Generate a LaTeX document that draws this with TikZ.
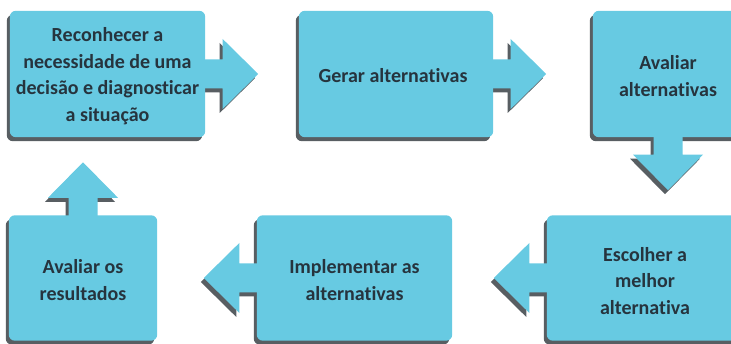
\documentclass[tikz,border=0pt]{standalone}
\usepackage{fontspec}
\setmainfont{Carlito}[Ligatures={NoCommon,NoRequired,NoContextual}]
\usetikzlibrary{calc}
\pgfdeclarelayer{background}
\pgfsetlayers{background,main}

\definecolor{boxfill}{RGB}{103,202,226}
\definecolor{boxshade}{RGB}{88,94,98}
\definecolor{boxtext}{RGB}{38,52,62}

% block arrow pointing along +x, drawn from the box edge
\newcommand\blockarrowpath{(-6,-14.5) -- (17.5,-14.5) -- (17.5,-35) -- (53,0) -- (17.5,35) -- (17.5,14.5) -- (-6,14.5) -- cycle}

\tikzset{
  stepbox/.style={rectangle, inner sep=0pt},
  steptext/.style={inner sep=0pt, align=center, text=boxtext,
    font=\fontsize{20}{26.5}\selectfont\bfseries},
}

\begin{document}
\begin{tikzpicture}[x=1pt,y=-1pt]
\useasboundingbox (0,0) rectangle (731,344);

% process steps
\node[stepbox, minimum width=195pt, minimum height=126pt] (b1) at (107.5,74) {};
\node[stepbox, minimum width=194pt, minimum height=126pt] (b2) at (396,74) {};
\node[stepbox, minimum width=150pt, minimum height=126pt] (b3) at (668,74) {};
\node[stepbox, minimum width=196pt, minimum height=125pt] (b6) at (645,278) {};
\node[stepbox, minimum width=195pt, minimum height=125pt] (b5) at (354.5,278) {};
\node[stepbox, minimum width=148pt, minimum height=125pt] (b4) at (83,278) {};

% labels
\node[steptext] (t1) at ($(b1.center)+(0,2)$)
  {Reconhecer a\\necessidade de uma\\decisão e diagnosticar\\a situação};
\node[steptext] (t2) at ($(b2.center)+(-3,2)$) {Gerar alternativas};
\node[steptext] (t3) at ($(b3.center)+(0,2)$) {Avaliar\\alternativas};
\node[steptext] (t6) at ($(b6.center)+(0,3)$) {Escolher a\\melhor\\alternativa};
\node[steptext] (t5) at ($(b5.center)+(0,2)$) {Implementar as\\alternativas};
\node[steptext] (t4) at ($(b4.center)+(0,2)$) {Avaliar os\\resultados};

\begin{pgfonlayer}{background}
  % shadows: arrows and boxes, offset down-left
  \foreach \a/\r in {b1.east/0, b2.east/0, b3.south/-90, b6.west/180, b5.west/180, b4.north/90}{
    \fill[boxshade, shift={($(\a)+(-3pt,-4pt)$)}, rotate=\r] \blockarrowpath;
  }
  \foreach \b in {b1,b2,b3,b4,b5,b6}{
    \fill[boxshade, rounded corners=6pt]
      ($(\b.south west)+(-3pt,-4pt)$) rectangle ($(\b.north east)+(-3pt,-4pt)$);
  }
  % arrows
  \foreach \a/\r in {b1.east/0, b2.east/0, b3.south/-90, b6.west/180, b5.west/180, b4.north/90}{
    \fill[boxfill, shift={(\a)}, rotate=\r] \blockarrowpath;
  }
  % boxes
  \foreach \b in {b1,b2,b3,b4,b5,b6}{
    \fill[boxfill, rounded corners=6pt] (\b.south west) rectangle (\b.north east);
  }
\end{pgfonlayer}
\end{tikzpicture}
\end{document}
